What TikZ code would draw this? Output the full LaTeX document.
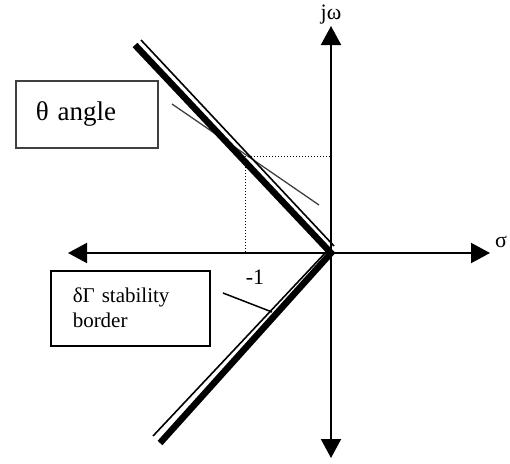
\documentclass[tikz,border=0pt]{standalone}
\usepackage{fontspec}
\setmainfont{Liberation Serif}
\usetikzlibrary{arrows.meta, positioning, calc}
\definecolor{tangentgray}{HTML}{404040}

\tikzset{
  axis/.style={line width=2pt, {Triangle[length=19pt,width=20pt]}-{Triangle[length=19pt,width=20pt]}},
  infobox/.style={draw, line width=1.5pt, anchor=north west, align=left, inner ysep=0pt},
}

\begin{document}
\begin{tikzpicture}[x=1pt, y=-1pt, font=\fontsize{22}{26}\selectfont]
  \useasboundingbox (0,0) rectangle (510,463);
  % Points
  \coordinate (O) at (331,253);
  \coordinate (top) at (331,26);
  \coordinate (bottom) at (331,458);
  \coordinate (left) at (68,253);
  \coordinate (right) at (490,253);
  \coordinate (touch) at (245,156);

  % Axes
  \draw[axis] (bottom) -- (top);
  \draw[axis] (left) -- (right);
  \node (jw) at (331,15) {jω};
  \node (sigma) at (501,242) {σ};
  \node (minusone) at (255,277) {-1};

  % Tangent and projections
  \draw[line width=1.3pt, tangentgray] (172,104) -- (319,205);
  \draw[dotted, line width=1pt] (245,252) -- (touch) -- (331,156);

  % Stability border (double line)
  \draw[line width=6.5pt, miter limit=4] (135,45) -- (O) -- (160,443);
  \draw[line width=1.6pt] (141,40) -- (334,246);
  \draw[line width=1.6pt] (328,250) -- (153,436);

  % Boxes
  \node[infobox, draw=tangentgray, inner xsep=20pt, text width=102pt, minimum height=67pt,
        font=\fontsize{27}{30}\selectfont] (thetabox) at (15,80) {θ angle};
  \node[infobox, inner xsep=22pt, text width=115pt, minimum height=75pt,
        font=\fontsize{21}{25}\selectfont] (borderbox) at (50,270) {δΓ stability\\border};
  \draw[line width=1.5pt] (223,293) -- (272,312);
\end{tikzpicture}
\end{document}
